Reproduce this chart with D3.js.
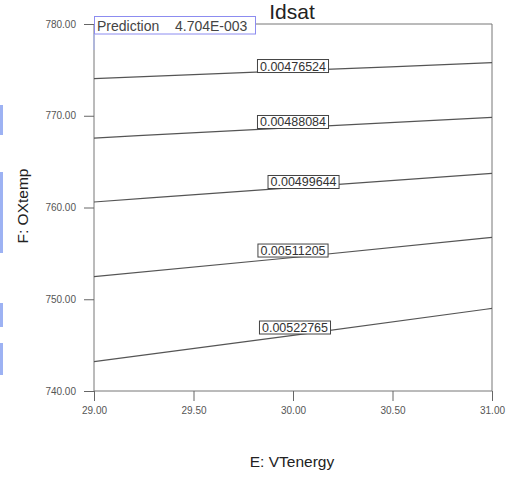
<!DOCTYPE html>
<html>
<head>
<meta charset="utf-8">
<script src="https://cdn.jsdelivr.net/npm/d3@7"></script>
<style>
  html, body { margin: 0; padding: 0; background: #fff; }
  svg { display: block; font-family: "Liberation Sans", Arial, sans-serif; }
</style>
</head>
<body>
<svg id="chart" width="510" height="482"></svg>
<script>
// ---- data ----
const title = "Idsat";
const xLabel = "E: VTenergy";
const yLabel = "F: OXtemp";
const predictionLabel = "Prediction";
const predictionValue = "4.704E-003";
const xTicks = [29.0, 29.5, 30.0, 30.5, 31.0];
const yTicks = [740, 750, 760, 770, 780];
const eValues = [29.0, 30.0, 31.0];
const contourLevels = ["0.00476524", "0.00488084", "0.00499644", "0.00511205", "0.00522765"];
const contour1 = [774.04, 774.91, 775.78];
const contour2 = [767.57, 768.71, 769.83];
const contour3 = [760.60, 762.17, 763.73];
const contour4 = [752.46, 754.55, 756.75];
const contour5 = [743.20, 746.06, 749.00];
const labelE = [30.0, 30.0, 30.053, 30.0, 30.01];
const labelF = [775.42, 769.32, 762.78, 755.31, 746.92];

const contours = [contour1, contour2, contour3, contour4, contour5];

// ---- layout ----
const svg = d3.select("#chart");
const x = d3.scaleLinear().domain([29, 31]).range([94, 492]);
const y = d3.scaleLinear().domain([740, 780]).range([391, 24]);

// left-edge blue marks (page artefacts)
[[105, 135], [172, 253], [303, 327], [343, 375]].forEach(s => {
  svg.append("rect").attr("x", 0).attr("y", s[0]).attr("width", 3)
    .attr("height", s[1] - s[0]).attr("fill", "#9db2f3");
});

// title
svg.append("text").attr("x", 292).attr("y", 19).attr("text-anchor", "middle")
  .attr("font-size", 21).attr("fill", "#222").text(title);

// frame
const frame = svg.append("g").attr("stroke", "#777").attr("stroke-width", 1).attr("fill", "none");
frame.append("line").attr("x1", x(29)).attr("x2", x(31)).attr("y1", y(780)).attr("y2", y(780));
frame.append("line").attr("x1", x(31)).attr("x2", x(31)).attr("y1", y(780)).attr("y2", y(740));
frame.append("line").attr("x1", x(29)).attr("x2", x(31)).attr("y1", y(740)).attr("y2", y(740));
frame.append("line").attr("x1", x(29)).attr("x2", x(29)).attr("y1", y(780)).attr("y2", y(740));

// axes
const yAxis = svg.append("g").attr("transform", `translate(${x(29)},0)`)
  .call(d3.axisLeft(y).tickValues(yTicks).tickFormat(d3.format(".2f")).tickSize(10).tickPadding(8).tickSizeOuter(0));
const xAxis = svg.append("g").attr("transform", `translate(0,${y(740)})`)
  .call(d3.axisBottom(x).tickValues(xTicks).tickFormat(d3.format(".2f")).tickSize(10).tickPadding(6).tickSizeOuter(0));
[xAxis, yAxis].forEach(a => {
  a.select(".domain").remove();
  a.selectAll(".tick line").attr("stroke", "#666");
  a.selectAll(".tick text").attr("fill", "#555").attr("font-size", 10)
    .attr("font-family", "'Liberation Sans', Arial, sans-serif");
});

// contour lines
const lineGen = d3.line().x((d, i) => x(eValues[i])).y(d => y(d)).curve(d3.curveMonotoneX);
contours.forEach(c => {
  svg.append("path").attr("d", lineGen(c)).attr("fill", "none")
    .attr("stroke", "#555").attr("stroke-width", 1.2);
});

// contour labels
contourLevels.forEach((lab, i) => {
  const g = svg.append("g").attr("transform", `translate(${x(labelE[i])},${y(labelF[i])})`);
  const rect = g.append("rect").attr("fill", "#fff").attr("stroke", "#444").attr("stroke-width", 1);
  const t = g.append("text").attr("text-anchor", "middle").attr("dy", "0.36em")
    .attr("font-size", 12.5).attr("fill", "#333").text(lab);
  const w = t.node().getComputedTextLength();
  rect.attr("x", -w / 2 - 2.5).attr("y", -6.5).attr("width", w + 5).attr("height", 13);
});

// prediction box
const pg = svg.append("g");
pg.append("rect").attr("x", 94.5).attr("y", 16.5).attr("width", 161).attr("height", 17.5)
  .attr("fill", "#fff").attr("stroke", "#8c8cf0").attr("stroke-width", 1);
pg.append("text").attr("x", 97).attr("y", 30.5).attr("font-size", 14).attr("fill", "#444").text(predictionLabel);
pg.append("text").attr("x", 175).attr("y", 30.5).attr("font-size", 14).attr("fill", "#444").text(predictionValue);
svg.append("line").attr("x1", x(29)).attr("x2", x(29)).attr("y1", 34).attr("y2", 50)
  .attr("stroke", "#a9b4ee").attr("stroke-width", 1.2);

// axis titles
svg.append("text").attr("x", 292).attr("y", 467).attr("text-anchor", "middle")
  .attr("font-size", 15.5).attr("fill", "#222").text(xLabel);
svg.append("text").attr("transform", "translate(27.5,206) rotate(-90)").attr("text-anchor", "middle")
  .attr("font-size", 15.5).attr("fill", "#222").text(yLabel);
</script>
</body>
</html>
